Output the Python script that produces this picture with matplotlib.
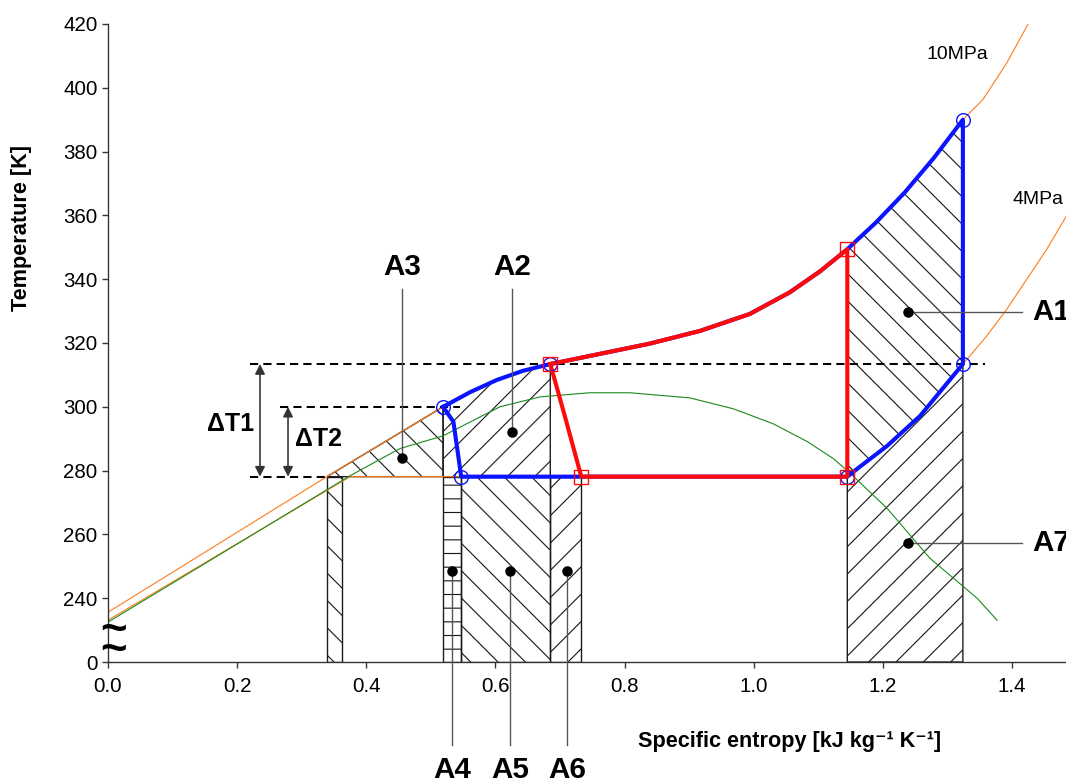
import matplotlib.pyplot as plt
from matplotlib.patches import Polygon

plt.rcParams['font.family'] = ['Liberation Sans', 'DejaVu Sans']
plt.rcParams['hatch.linewidth'] = 0.5

# --- isobars (entropy kJ/kg/K, temperature K) ---
s_10mpa = [0.0, 0.339, 0.519, 0.561, 0.602, 0.643, 0.685, 0.762, 0.839, 0.917, 0.994,
           1.056, 1.103, 1.145, 1.189, 1.234, 1.279, 1.324, 1.355, 1.392, 1.431]
T_10mpa = [235.6, 278.1, 300.0, 304.6, 308.4, 311.3, 313.4, 316.6, 319.8, 323.8, 329.1,
           335.9, 342.5, 349.4, 357.7, 367.2, 378.0, 390.0, 396.3, 407.8, 422.2]

s_4mpa = [0.0, 0.375, 1.145, 1.165, 1.207, 1.258, 1.324, 1.361, 1.392, 1.454, 1.484]
T_4mpa = [233.1, 278.1, 278.1, 281.3, 287.8, 297.2, 313.4, 322.2, 330.6, 349.4, 359.7]

s_green = [0.0, 0.375, 0.452, 0.519, 0.607, 0.669, 0.746, 0.808, 0.901, 0.968,
           1.030, 1.083, 1.123, 1.145, 1.207, 1.273, 1.346, 1.377]
T_green = [232.5, 278.4, 286.9, 290.9, 300.0, 303.1, 304.4, 304.4, 302.8, 299.4,
           294.7, 289.1, 283.8, 280.0, 268.1, 252.5, 240.0, 233.1]

# --- cycles ---
s_blue = [0.519, 0.561, 0.602, 0.643, 0.685, 0.762, 0.839, 0.917, 0.994, 1.056, 1.103,
          1.145, 1.189, 1.234, 1.279, 1.324, 1.324, 1.258, 1.207, 1.165,
          1.145, 0.547, 0.535, 0.519]
T_blue = [300.0, 304.6, 308.4, 311.3, 313.4, 316.6, 319.8, 323.8, 329.1, 335.9, 342.5,
          349.4, 357.7, 367.2, 378.0, 390.0, 313.4, 297.2, 287.8, 281.3,
          278.1, 278.1, 295.3, 300.0]
s_circ = [0.519, 0.547, 0.685, 1.145, 1.324, 1.324]
T_circ = [300.0, 278.1, 313.4, 278.1, 313.4, 390.0]

s_red = [0.685, 0.762, 0.839, 0.917, 0.994, 1.056, 1.103, 1.145, 1.145,
         0.733, 0.709, 0.685]
T_red = [313.4, 316.6, 319.8, 323.8, 329.1, 335.9, 342.5, 349.4, 278.1,
         278.1, 296.0, 313.4]
s_sq = [0.685, 0.733, 1.145, 1.145]
T_sq = [313.4, 278.1, 278.1, 349.4]

# --- hatched areas ---
T_low = 278.1
T_base = 220
A1_s = [1.145, 1.189, 1.234, 1.279, 1.324, 1.324, 1.258, 1.207, 1.165, 1.145]
A1_T = [349.4, 357.7, 367.2, 378.0, 390.0, 313.4, 297.2, 287.8, 281.3, 278.1]
A7_s = [1.145, 1.145, 1.165, 1.207, 1.258, 1.324, 1.324]
A7_T = [220, 278.1, 281.3, 287.8, 297.2, 313.4, 220]
A2_s = [0.519, 0.519, 0.561, 0.602, 0.643, 0.685, 0.685]
A2_T = [278.1, 300.0, 304.6, 308.4, 311.3, 313.4, 278.1]
A3_s = [0.339, 0.519, 0.519]
A3_T = [278.1, 300.0, 278.1]
rect_edges = [(0.339, 0.362, '\\\\'), (0.519, 0.547, '--'), (0.547, 0.685, '\\\\'), (0.685, 0.733, '//')]

y_ticks = list(range(220, 421, 20))
y_labels = ['0'] + [str(v) for v in y_ticks[1:]]
x_ticks = [0.0, 0.2, 0.4, 0.6, 0.8, 1.0, 1.2, 1.4]

dpi = 164
fig = plt.figure(figsize=(1066 / dpi, 784 / dpi), dpi=dpi)
ax = fig.add_axes([108 / 1066, 1 - 662 / 784, 1 - 108 / 1066, (662 - 24) / 784])
ax.set_xlim(0, 1.4837)
ax.set_ylim(220, 420)

edge = '#1a1a1a'
def hatch_poly(xs, ys, h):
    ax.add_patch(Polygon(list(zip(xs, ys)), closed=True, facecolor='none',
                         edgecolor=edge, hatch=h, lw=0.6, zorder=1))

hatch_poly(A1_s, A1_T, '\\\\')
hatch_poly(A7_s, A7_T, '//')
hatch_poly(A2_s, A2_T, '//')
hatch_poly(A3_s, A3_T, '\\\\')
for s0, s1, h in rect_edges:
    hatch_poly([s0, s0, s1, s1], [T_base, T_low, T_low, T_base], h)

# isobars
ax.plot(s_10mpa, T_10mpa, color='#ff7f1f', lw=0.5, zorder=2)
ax.plot(s_4mpa, T_4mpa, color='#ff7f1f', lw=0.5, zorder=2)
ax.plot(s_green, T_green, color='#1f8c1f', lw=0.5, zorder=2)

# cycles
ax.plot(s_blue, T_blue, color='#0a14ff', lw=1.8, zorder=4, solid_joinstyle='round')
ax.plot(s_red, T_red, color='#ff0a0a', lw=1.8, zorder=5, solid_joinstyle='round')
ax.plot(s_circ, T_circ, 'o', ms=6, mfc='none', mec='#0a14ff', mew=0.6, zorder=6)
ax.plot(s_sq, T_sq, 's', ms=6, mfc='none', mec='#ff0a0a', mew=0.6, zorder=7)

# dashed temperature levels
dash = dict(color='black', lw=0.9, dashes=(4, 2.5), zorder=3)
ax.plot([0.22, 1.358], [313.4, 313.4], **dash)
ax.plot([0.266, 0.545], [300.0, 300.0], **dash)
ax.plot([0.22, 0.344], [278.1, 278.1], **dash)

arrow = dict(arrowstyle='<|-|>', color='#333333', lw=0.7, mutation_scale=9,
             shrinkA=0, shrinkB=0)
ax.annotate('', xy=(0.2354, 313.4), xytext=(0.2354, 278.1), arrowprops=arrow)
ax.annotate('', xy=(0.2788, 300.0), xytext=(0.2788, 278.1), arrowprops=arrow)
ax.text(0.19, 294.5, '\u0394T1', fontsize=11, fontweight='bold', ha='center', va='center')
ax.text(0.326, 290.0, '\u0394T2', fontsize=11, fontweight='bold', ha='center', va='center')

ax.text(1.316, 410.3, '10MPa', fontsize=8.5, ha='center', va='center')
ax.text(1.441, 365.0, '4MPa', fontsize=8.5, ha='center', va='center', clip_on=False)

# area labels with leader lines
lead = dict(color='#555555', lw=0.6, zorder=8, clip_on=False)
dot = dict(marker='o', ms=3.6, color='black', zorder=9, clip_on=False)
lab = dict(fontsize=13, fontweight='bold', va='center', clip_on=False)

for s, T_dot, name in [(0.4553, 284.1, 'A3'), (0.6257, 292.2, 'A2')]:
    ax.plot([s, s], [T_dot, 336.9], **lead)
    ax.plot(s, T_dot, **dot)
    ax.text(s, 343.8, name, ha='center', **lab)

for T_dot, name in [(329.7, 'A1'), (257.2, 'A7')]:
    ax.plot([1.239, 1.4155], [T_dot, T_dot], **lead)
    ax.plot(1.239, T_dot, **dot)
    ax.text(1.431, T_dot, name, ha='left', **lab)

for s, name in [(0.5328, 'A4'), (0.6226, 'A5'), (0.7109, 'A6')]:
    ax.plot([s, s], [248.4, 194.1], **lead)
    ax.plot(s, 248.4, **dot)
    ax.text(s, 186.0, name, ha='center', **lab)

# axis break marks
ax.text(0.0085, 226.6, '~\n~', fontsize=20, fontweight='bold', ha='center', va='center',
        linespacing=0.3, zorder=10, clip_on=False)

ax.set_yticks(y_ticks)
ax.set_yticklabels(y_labels)
ax.set_xticks(x_ticks)
ax.set_xticklabels(['%.1f' % v for v in x_ticks])
ax.tick_params(direction='out', length=2.6, width=0.6, labelsize=9, color='#333333')
ax.tick_params(axis='y', pad=2)
ax.tick_params(axis='x', pad=4)
for side in ['top', 'right']:
    ax.spines[side].set_visible(False)
for side in ['left', 'bottom']:
    ax.spines[side].set_color('#333333')
    ax.spines[side].set_linewidth(0.6)

fig.text(22 / 1066, 1 - 228 / 784, 'Temperature [K]', rotation=90, fontsize=9.5,
         fontweight='bold', ha='center', va='center')
fig.text(790 / 1066, 1 - 741 / 784, 'Specific entropy [kJ kg\u207b\u00b9 K\u207b\u00b9]',
         fontsize=9.5, fontweight='bold', ha='center', va='center')

fig.savefig('out.png', dpi=dpi)
